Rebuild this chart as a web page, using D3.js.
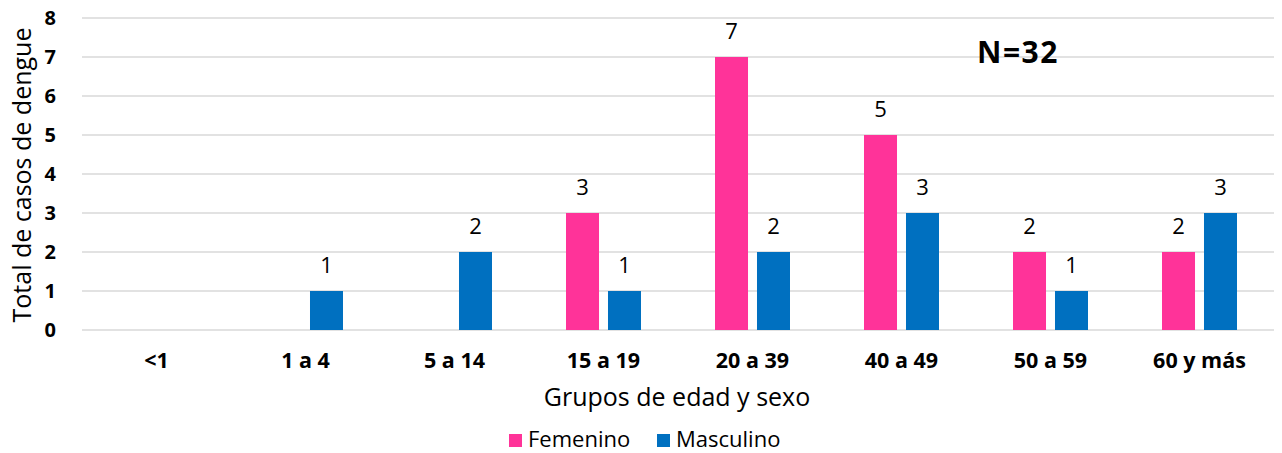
<!DOCTYPE html>
<html><head><meta charset="utf-8">
<script src="https://cdn.jsdelivr.net/npm/d3@7"></script>
<style>body{margin:0;background:#fff}svg{display:block;font-family:"Open Sans","Noto Sans",sans-serif}</style>
</head><body><svg id="c" width="1282" height="453"></svg>
<script>
const categories = ["<1","1 a 4","5 a 14","15 a 19","20 a 39","40 a 49","50 a 59","60 y más"];
const femenino = [0,0,0,3,7,5,2,2];
const masculino = [0,1,2,1,2,3,1,3];
const yTicks = [0,1,2,3,4,5,6,7,8];
const seriesNames = ["Femenino","Masculino"];
const colors = ["#FF3399","#0070C0"];

const svg = d3.select("#c");
const m = {l:82, r:8, t:18, b:123};
const W = 1282, H = 453;
const FF = "'Open Sans','Noto Sans',sans-serif";
const x = d3.scaleBand().domain(categories).range([m.l, W-m.r]);
const y = d3.scaleLinear().domain([0,8]).range([330,18]);
const xs = d3.scaleBand().domain(seriesNames).range([-37.5,37.5]).paddingInner(0.214);

// grid
svg.append("g").selectAll("line").data(yTicks).join("line")
  .attr("x1",m.l).attr("x2",W-m.r).attr("y1",d=>y(d)).attr("y2",d=>y(d))
  .attr("stroke","#d9d9d9").attr("stroke-width",1.5);

// y axis labels
const ya = svg.append("g").attr("transform",`translate(56,0)`)
  .call(d3.axisLeft(y).tickValues(yTicks).tickSize(0).tickPadding(0).tickFormat(d3.format("d")));
ya.select(".domain").remove();
ya.selectAll("text").attr("font-size",20).attr("font-weight","bold").attr("fill","#000").attr("font-family",FF);

// x axis labels
const xa = svg.append("g").attr("transform",`translate(0,${y(0)})`)
  .call(d3.axisBottom(x).tickSize(0).tickPadding(0));
xa.select(".domain").remove();
xa.selectAll("text").attr("dy",null).attr("y",38).attr("font-size",21.5).attr("font-weight","bold").attr("fill","#000").attr("font-family",FF);

const data = [femenino, masculino];
data.forEach((vals, si) => {
  const g = svg.append("g");
  const d = categories.map((c,i)=>({c, v: vals[i]})).filter(o=>o.v>0);
  g.selectAll("rect").data(d).join("rect")
    .attr("x", o => x(o.c)+x.bandwidth()/2+xs(seriesNames[si]))
    .attr("width", xs.bandwidth())
    .attr("y", o => y(o.v)).attr("height", o => y(0)-y(o.v))
    .attr("fill", colors[si]);
  g.selectAll("text").data(d).join("text")
    .attr("x", o => x(o.c)+x.bandwidth()/2+xs(seriesNames[si])+xs.bandwidth()/2)
    .attr("y", o => y(o.v)-18)
    .attr("text-anchor","middle").attr("font-size",22).attr("fill","#000")
    .text(o=>o.v);
});

// axis titles
svg.append("text").attr("x",677).attr("y",406).attr("text-anchor","middle")
  .attr("font-size",25).attr("fill","#000").text("Grupos de edad y sexo");
svg.append("text").attr("transform","translate(31,175) rotate(-90)").attr("text-anchor","middle")
  .attr("font-size",25).attr("fill","#000").text("Total de casos de dengue");

// N label
svg.append("text").attr("x",1018).attr("y",63).attr("text-anchor","middle")
  .attr("font-size",30).attr("font-weight","bold").attr("letter-spacing",1.5).attr("fill","#000").text("N=32");

// legend
const lg = svg.append("g");
const lx = [509, 657];
seriesNames.forEach((n,i)=>{
  lg.append("rect").attr("x",lx[i]).attr("y",434).attr("width",13).attr("height",13).attr("fill",colors[i]);
  lg.append("text").attr("x",lx[i]+19).attr("y",447).attr("font-size",22).attr("fill","#000").text(n);
});
</script></body></html>
